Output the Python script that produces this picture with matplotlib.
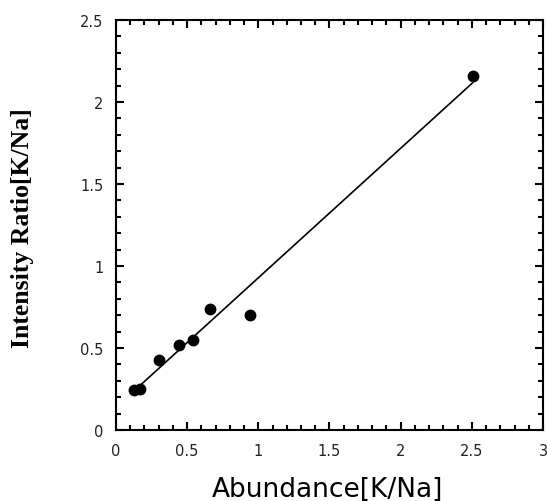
import numpy as np
import matplotlib.pyplot as plt
from matplotlib.ticker import MultipleLocator

# measured points
abundance = [0.13, 0.17, 0.30, 0.44, 0.54, 0.66, 0.94, 2.51]
intensity = [0.245, 0.25, 0.43, 0.52, 0.55, 0.74, 0.70, 2.16]

# fitted line (slope, intercept) and its x range
fit_slope = 0.79
fit_intercept = 0.138
fit_range = [0.18, 2.507]

xtick_vals = [0, 0.5, 1, 1.5, 2, 2.5, 3]
xtick_labels = ['0', '0.5', '1', '1.5', '2', '2.5', '3']
ytick_vals = [0, 0.5, 1, 1.5, 2, 2.5]
ytick_labels = ['0', '0.5', '1', '1.5', '2', '2.5']

fig = plt.figure(figsize=(5.47, 5.02), dpi=100)
ax = fig.add_axes([0.212, 0.1414, 0.7807, 0.8167])

fx = np.array(fit_range)
ax.plot(fx, fit_slope * fx + fit_intercept, color='black', lw=1.2)
ax.plot(abundance, intensity, 'o', color='black', markersize=7.5)

ax.set_xlim(0, 3)
ax.set_ylim(0, 2.5)
ax.xaxis.set_minor_locator(MultipleLocator(0.1))
ax.yaxis.set_minor_locator(MultipleLocator(0.1))
ax.set_xticks(xtick_vals)
ax.set_xticklabels(xtick_labels, fontsize=10.5, color='#222222')
ax.set_yticks(ytick_vals)
ax.set_yticklabels(ytick_labels, fontsize=10.5, color='#222222')

ax.tick_params(which='both', direction='in', top=True, right=True, width=1.5)
ax.tick_params(which='major', length=6, pad=9)
ax.tick_params(which='minor', length=3.5)
for s in ax.spines.values():
    s.set_linewidth(1.5)

ax.set_xlabel('Abundance[K/Na]', fontsize=19)
ax.xaxis.set_label_coords(0.495, -0.112)
ax.set_ylabel('Intensity Ratio[K/Na]', fontsize=18.5, family='Liberation Serif',
              fontweight='bold')
ax.yaxis.set_label_coords(-0.218, 0.495)
ax.yaxis.label.set_verticalalignment('center')

fig.savefig('out.png', dpi=100)
